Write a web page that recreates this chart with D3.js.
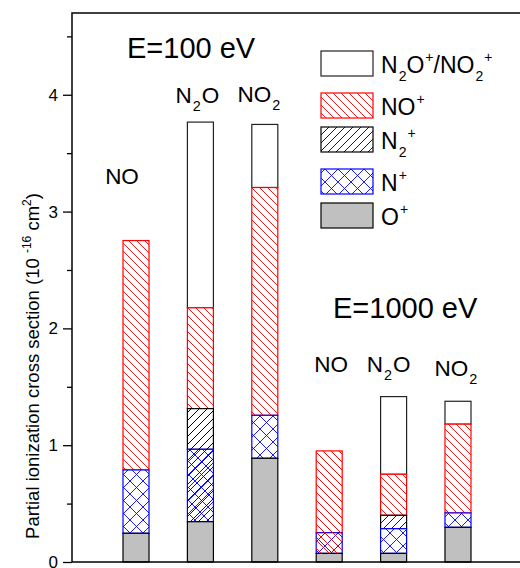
<!DOCTYPE html>
<html><head><meta charset="utf-8">
<script src="https://cdn.jsdelivr.net/npm/d3@7"></script>
<style>body{margin:0;background:#fff}svg{display:block}text{font-family:"Liberation Sans",Arial,sans-serif;fill:#000}</style>
</head><body><svg id="c" width="520" height="568"></svg>
<script>
// ---- data ----
const barIds = ["NO-100", "N2O-100", "NO2-100", "NO-1000", "N2O-1000", "NO2-1000"];
const molecules = ["NO", "N2O", "NO2", "NO", "N2O", "NO2"];
const energies = ["E=100 eV", "E=1000 eV"];
const speciesKeys = ["O", "N", "N2", "NO", "Top"];
const valO   = [0.246, 0.345, 0.888, 0.074, 0.074, 0.297];
const valN   = [0.542, 0.620, 0.368, 0.177, 0.211, 0.123];
const valN2  = [0.000, 0.348, 0.000, 0.000, 0.115, 0.000];
const valNO  = [1.964, 0.863, 1.950, 0.700, 0.351, 0.760];
const valTop = [0.000, 1.590, 0.540, 0.000, 0.665, 0.196];
const yTicks = [0, 1, 2, 3, 4];
const yMinorTicks = [0.5, 1.5, 2.5, 3.5, 4.5];
// label anchors (data units) for molecule names
const labelY = [3.24, 3.93, 3.94, 1.63, 1.63, 1.59];
const labelDx = [-14, -3, -6, 2, -5, -2];
// hatch of a series that also runs down over the segment(s) below it (as in the original)
const overlapBars = [[1, "N2"], [3, "NO"]];

const svg = d3.select("#c");
const L = 72, R = 521, T = 13, B = 562;
const y = d3.scaleLinear().domain([0, 4.7]).range([B, T]);
const x = d3.scaleBand().domain(barIds).range([90.8, 503.2]).paddingInner(0.596).paddingOuter(0.5);

// patterns
const defs = svg.append("defs");
function hatch(id, color, size, paths, bg) {
  const p = defs.append("pattern").attr("id", id).attr("patternUnits", "userSpaceOnUse")
    .attr("width", size).attr("height", size);
  if (bg) p.append("rect").attr("width", size).attr("height", size).attr("fill", "#fff");
  paths.forEach(d => p.append("path").attr("d", d).attr("stroke", color).attr("stroke-width", 0.9).attr("fill", "none"));
}
const pNO = ["M0,0L8,8", "M-4,4L4,12", "M4,-4L12,4"];
const pN2 = ["M0,8L8,0", "M-4,4L4,-4", "M4,12L12,4"];
hatch("pNO", "#ff0000", 8, pNO, true);
hatch("pNOt", "#ff0000", 8, pNO, false);
hatch("pN2", "#000", 8, pN2, true);
hatch("pN2t", "#000", 8, pN2, false);
hatch("pN", "#0000ff", 13, ["M0,0L13,13", "M0,13L13,0"], true);

const style = {
  O:   {fill: "#c0c0c0", stroke: "#000"},
  N:   {fill: "url(#pN)", stroke: "#0000ff"},
  N2:  {fill: "url(#pN2)", stroke: "#000", over: "url(#pN2t)"},
  NO:  {fill: "url(#pNO)", stroke: "#ff0000", over: "url(#pNOt)"},
  Top: {fill: "#fff", stroke: "#222"}
};
const series = {O: valO, N: valN, N2: valN2, NO: valNO, Top: valTop};

// stacked segments
const rows = barIds.map((id, i) => {
  const r = {id};
  speciesKeys.forEach(k => r[k] = series[k][i]);
  return r;
});
const stack = d3.stack().keys(speciesKeys)(rows);
const byKey = {};
stack.forEach(s => byKey[s.key] = s);

const gBars = svg.append("g");
// draw from top series down so lower borders sit over upper ones
stack.slice().reverse().forEach(s => {
  const k = s.key;
  s.forEach((d, i) => {
    if (d[1] - d[0] <= 0) return;
    gBars.append("rect")
      .attr("x", x(barIds[i])).attr("width", x.bandwidth())
      .attr("y", y(d[1])).attr("height", y(d[0]) - y(d[1]))
      .attr("fill", style[k].fill).attr("stroke", style[k].stroke).attr("stroke-width", 1.2);
  });
});
// overlapping hatch (transparent) reaching down to the top of O+
overlapBars.forEach(([i, k]) => {
  const top = byKey[k][i][1], bottom = byKey["O"][i][1];
  gBars.append("rect")
    .attr("x", x(barIds[i])).attr("width", x.bandwidth())
    .attr("y", y(top)).attr("height", y(bottom) - y(top))
    .attr("fill", style[k].over).attr("stroke", "none");
});

// axes
const ax = svg.append("g");
ax.append("g").attr("transform", `translate(${L},0)`)
  .call(d3.axisLeft(y).tickValues(yTicks).tickSize(9).tickPadding(5).tickFormat(d3.format("d")))
  .call(g => g.select(".domain").remove())
  .call(g => g.selectAll("text").attr("font-size", 17).attr("font-family", "Liberation Sans, Arial, sans-serif"))
  .call(g => g.selectAll("line").attr("stroke-width", 1.3));
ax.append("g").attr("transform", `translate(${L},0)`)
  .call(d3.axisLeft(y).tickValues(yMinorTicks).tickSize(5).tickFormat(""))
  .call(g => g.select(".domain").remove())
  .call(g => g.selectAll("line").attr("stroke-width", 1.3));
ax.append("g").attr("transform", `translate(${R},0)`)
  .call(d3.axisLeft(y).tickValues(yTicks).tickSize(-8).tickFormat(""))
  .call(g => g.select(".domain").remove())
  .call(g => g.selectAll("line").attr("stroke-width", 1.3));
ax.append("g").attr("transform", `translate(${R},0)`)
  .call(d3.axisLeft(y).tickValues(yMinorTicks).tickSize(-4).tickFormat(""))
  .call(g => g.select(".domain").remove())
  .call(g => g.selectAll("line").attr("stroke-width", 1.3));
ax.append("rect").attr("x", L).attr("y", T).attr("width", R - L).attr("height", B - T)
  .attr("fill", "none").attr("stroke", "#000").attr("stroke-width", 1.5);

function drawMol(xc, yb, m, size) {
  const t = svg.append("text").attr("x", xc).attr("y", yb).attr("font-size", size).attr("text-anchor", "middle");
  const sub = size * 0.64, drop = size * 0.36;
  if (m === "N2O") {
    t.append("tspan").text("N");
    t.append("tspan").text("2").attr("font-size", sub).attr("dy", drop).attr("dx", 1);
    t.append("tspan").text("O").attr("dy", -drop).attr("dx", 1);
  } else if (m === "NO2") {
    t.append("tspan").text("NO");
    t.append("tspan").text("2").attr("font-size", sub).attr("dy", drop).attr("dx", 1);
  } else t.text(m);
}
barIds.forEach((id, i) => drawMol(x(id) + x.bandwidth() / 2 + labelDx[i], y(labelY[i]), molecules[i], 22.5));

svg.append("text").attr("x", 127).attr("y", 58).attr("font-size", 29).text(energies[0]);
svg.append("text").attr("x", 333).attr("y", 318).attr("font-size", 29).text(energies[1]);

// y title
const yt = svg.append("text").attr("transform", "translate(39,366) rotate(-90)")
  .attr("text-anchor", "middle").attr("font-size", 18.5);
yt.append("tspan").text("Partial ionization cross section (10 ");
yt.append("tspan").text("-16").attr("font-size", 12).attr("dy", -8);
yt.append("tspan").text(" cm").attr("dy", 8);
yt.append("tspan").text("2").attr("font-size", 12).attr("dy", -8);
yt.append("tspan").text(")").attr("dy", 8);

// legend
const legendKeys = ["Top", "NO", "N2", "N", "O"];
const legendY = [51, 93, 127, 169, 203];
const legendLabels = {
  Top: [["N", ""], ["2", "sub"], ["O", ""], ["+", "sup"], ["/NO", ""], ["2", "sub"], ["+", "sup"]],
  NO: [["NO", ""], ["+", "sup"]],
  N2: [["N", ""], ["2", "sub"], ["+", "sup"]],
  N: [["N", ""], ["+", "sup"]],
  O: [["O", ""], ["+", "sup"]]
};
const lg = svg.append("g");
legendKeys.forEach((k, i) => {
  lg.append("rect").attr("x", 321).attr("y", legendY[i]).attr("width", 52).attr("height", 25)
    .attr("fill", style[k].fill).attr("stroke", style[k].stroke).attr("stroke-width", 1.2);
  const t = lg.append("text").attr("x", 381).attr("y", legendY[i] + 22).attr("font-size", 23);
  let cur = 0;
  legendLabels[k].forEach(([s, kind]) => {
    const ts = t.append("tspan").text(s);
    let target = 0;
    if (kind === "sub") { target = 8; ts.attr("font-size", 14).attr("dx", 1); }
    else if (kind === "sup") { target = -11; ts.attr("font-size", 14).attr("dx", 1); }
    ts.attr("dy", target - cur);
    cur = target;
  });
});
</script></body></html>
